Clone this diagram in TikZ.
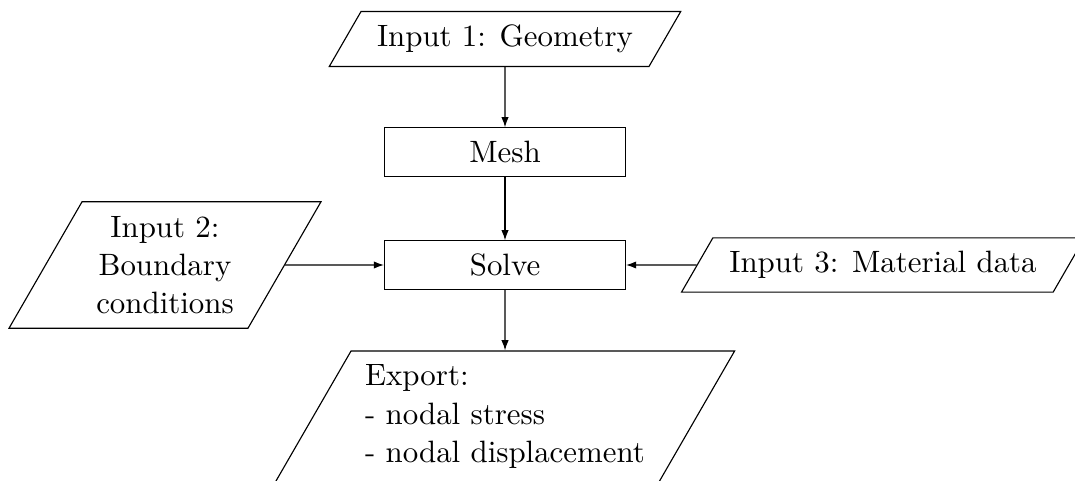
\documentclass[tikz,border=0pt]{standalone}
\usetikzlibrary{shapes.geometric,arrows.meta}
\newcommand\pxu{0.3545pt}
\newcommand\nodefont{\fontsize{10.95}{13.6}\selectfont}
\tikzset{
  procbox/.style={draw, rectangle, minimum width=241*\pxu, minimum height=48.3*\pxu, inner sep=0pt, font=\nodefont},
  iobox/.style={draw, trapezium, trapezium left angle=60, trapezium right angle=120, font=\nodefont},
  arr/.style={-{Latex[length=3.6pt,width=2.6pt]}},
}
\begin{document}
\begin{tikzpicture}[x=0.3545pt, y=-0.3545pt]
\useasboundingbox (0,0) rectangle (1075,481);
\node[iobox, inner xsep=16*\pxu, inner ysep=13.4*\pxu] (in1) at (505,39) {Input 1: Geometry};
\node[procbox] (mesh) at (505,152) {Mesh};
\node[procbox] (solve) at (505,265) {Solve};
\node[iobox, align=center, inner xsep=14.2*\pxu, inner ysep=14.2*\pxu] (in2) at (165,265) {Input 2:\\Boundary\\conditions};
\node[iobox, inner xsep=16.5*\pxu, inner ysep=13.4*\pxu] (in3) at (883,265) {Input 3: Material data};
\node[iobox, align=left, inner xsep=14*\pxu, inner ysep=13.7*\pxu] (exp) at (505,416.5) {Export:\\- nodal stress\\- nodal displacement};
\draw[arr] (in1.south) -- (mesh.north);
\draw[arr] (mesh.south) -- (solve.north);
\draw[arr] (in2.east) -- (solve.west);
\draw[arr] (in3.west) -- (solve.east);
\draw[arr] (solve.south) -- (exp.north);
\end{tikzpicture}
\end{document}
